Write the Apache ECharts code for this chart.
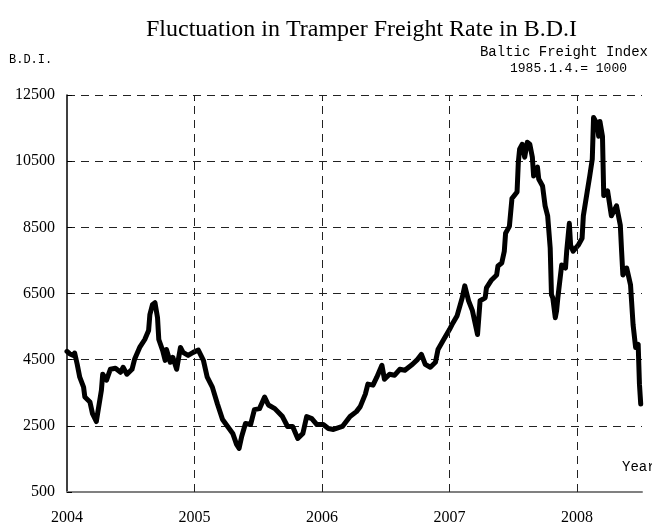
<!DOCTYPE html>
<html>
<head>
<meta charset="utf-8">
<title>B.D.I</title>
<script src="https://cdn.jsdelivr.net/npm/echarts@6/dist/echarts.min.js"></script>
<style>
	html, body { margin: 0; padding: 0; background: #fff; }
	#chart { width: 652px; height: 526px; }
</style>
</head>
<body>
<div id="chart"></div>
<script>
	// x position of each point, in years
	var years = [
		2004.00, 2004.02, 2004.05, 2004.06, 2004.08, 2004.10, 2004.13, 2004.14, 2004.18, 2004.20,
		2004.23, 2004.24, 2004.27, 2004.28, 2004.31, 2004.34, 2004.38, 2004.42, 2004.44, 2004.47,
		2004.51, 2004.53, 2004.57, 2004.61, 2004.64, 2004.65, 2004.67, 2004.69, 2004.71, 2004.72,
		2004.75, 2004.77, 2004.78, 2004.81, 2004.83, 2004.86, 2004.89, 2004.91, 2004.95, 2004.99,
		2005.03, 2005.07, 2005.10, 2005.14, 2005.18, 2005.22, 2005.26, 2005.30, 2005.33, 2005.35,
		2005.37, 2005.40, 2005.44, 2005.47, 2005.51, 2005.55, 2005.58, 2005.63, 2005.69, 2005.73,
		2005.77, 2005.81, 2005.85, 2005.88, 2005.92, 2005.96, 2006.01, 2006.05, 2006.09, 2006.16,
		2006.22, 2006.27, 2006.30, 2006.34, 2006.36, 2006.40, 2006.43, 2006.47, 2006.49, 2006.53,
		2006.57, 2006.61, 2006.65, 2006.71, 2006.75, 2006.78, 2006.81, 2006.85, 2006.89, 2006.91,
		2006.95, 2007.00, 2007.02, 2007.06, 2007.10, 2007.12, 2007.15, 2007.18, 2007.22, 2007.24,
		2007.28, 2007.29, 2007.33, 2007.37, 2007.38, 2007.41, 2007.43, 2007.44, 2007.47, 2007.49,
		2007.53, 2007.54, 2007.55, 2007.57, 2007.59, 2007.61, 2007.63, 2007.65, 2007.66, 2007.69,
		2007.70, 2007.73, 2007.75, 2007.77, 2007.79, 2007.80, 2007.81, 2007.83, 2007.84, 2007.85,
		2007.88, 2007.91, 2007.92, 2007.94, 2007.95, 2007.97, 2008.01, 2008.04, 2008.05, 2008.08,
		2008.10, 2008.12, 2008.13, 2008.16, 2008.17, 2008.18, 2008.20, 2008.21, 2008.24, 2008.27,
		2008.31, 2008.34, 2008.35, 2008.36, 2008.39, 2008.42, 2008.44, 2008.46, 2008.48, 2008.49,
		2008.50
	];
	// index values
	var bdi = [
		4750, 4680, 4630, 4700, 4360, 3970, 3670, 3370, 3220, 2870,
		2630, 2870, 3580, 4060, 3880, 4210, 4240, 4120, 4270, 4060,
		4210, 4510, 4870, 5110, 5380, 5860, 6160, 6220, 5770, 5110,
		4780, 4480, 4810, 4420, 4570, 4210, 4870, 4720, 4630, 4720,
		4790, 4480, 3970, 3670, 3160, 2690, 2480, 2270, 1940, 1820,
		2180, 2570, 2540, 2990, 3020, 3370, 3130, 3020, 2780, 2480,
		2480, 2120, 2270, 2780, 2720, 2540, 2540, 2420, 2390, 2480,
		2780, 2930, 3080, 3460, 3760, 3730, 3970, 4330, 3910, 4060,
		4030, 4210, 4180, 4360, 4510, 4660, 4360, 4270, 4420, 4810,
		5080, 5410, 5560, 5830, 6370, 6730, 6280, 5980, 5260, 6280,
		6370, 6670, 6910, 7060, 7330, 7420, 7780, 8320, 8530, 9370,
		9570, 10470, 10860, 11010, 10620, 11070, 11010, 10620, 10050, 10320,
		9960, 9750, 9150, 8850, 7870, 6460, 6370, 5770, 5980, 6370,
		7360, 7270, 7810, 8620, 7960, 7780, 7960, 8170, 8850, 9570,
		10050, 10560, 11820, 11610, 11250, 11700, 11250, 9460, 9600, 8850,
		9150, 8560, 7780, 7060, 7270, 6760, 5560, 4870, 4960, 3760,
		3160
	];
	// year ticks / gridlines
	var yearTicks = [2004, 2005, 2006, 2007, 2008];
	var yearGrid = [2005, 2006, 2007, 2008];

	var myChart = echarts.init(document.getElementById('chart'));
	var serif = '"Liberation Serif", "Times New Roman", serif';
	var mono = '"Liberation Mono", "Courier New", monospace';

	var points = years.map(function (x, i) {
		return [x, bdi[i]];
	});

	var option = {
		animation: false,
		title: {
			text: 'Fluctuation in Tramper Freight Rate in B.D.I',
			left: 141,
			top: 13,
			textStyle: {
				fontFamily: serif,
				fontSize: 24,
				fontWeight: 'normal',
				color: '#000'
			}
		},
		grid: {
			left: 67,
			right: 10,
			top: 95,
			bottom: 30,
			containLabel: false
		},
		graphic: [
			{ type: 'text', left: 9, top: 54, style: { text: 'B.D.I.', font: '12px ' + mono, fill: '#000' } },
			{ type: 'text', right: 4, top: 45, style: { text: 'Baltic Freight Index', font: '14px ' + mono, fill: '#000' } },
			{ type: 'text', left: 510, top: 62, style: { text: '1985.1.4.= 1000', font: '13px ' + mono, fill: '#000' } },
			{ type: 'text', left: 622, top: 460, style: { text: 'Year', font: '14px ' + mono, fill: '#000' } }
		],
		xAxis: [{
			type: 'value',
			min: 2004,
			max: 2008.51,
			interval: 1,
			axisLine: { show: true, lineStyle: { color: '#808080', width: 2 } },
			axisTick: { show: false },
			splitLine: { show: false },
			axisLabel: {
				showMaxLabel: false,
				margin: 18,
				fontFamily: serif,
				fontSize: 16,
				color: '#000',
				formatter: function (v) {
					return yearTicks.indexOf(v) >= 0 ? String(v) : '';
				}
			}
		}, {
			// small ticks along the top border
			type: 'value',
			position: 'top',
			min: 2004,
			max: 2008.51,
			interval: 1,
			axisLine: { show: false },
			axisLabel: { show: false },
			splitLine: { show: false },
			axisTick: { show: true, inside: true, length: 6, customValues: yearGrid, lineStyle: { color: '#000' } }
		}],
		yAxis: {
			type: 'value',
			min: 500,
			max: 12500,
			interval: 2000,
			axisLine: { show: true, lineStyle: { color: '#000', width: 1.5 } },
			axisTick: { show: true, inside: true, length: 5, lineStyle: { color: '#000' } },
			axisLabel: {
				margin: 12,
				fontFamily: serif,
				fontSize: 16,
				color: '#000',
				formatter: function (v) {
					return String(v);
				}
			},
			splitLine: {
				show: true,
				lineStyle: { color: '#222', type: [8, 6], width: 1 }
			}
		},
		series: [{
			name: 'B.D.I',
			type: 'line',
			data: points,
			showSymbol: false,
			symbol: 'none',
			smooth: false,
			lineStyle: { color: '#000', width: 5, join: 'round', cap: 'round' },
			markLine: {
				silent: true,
				symbol: ['none', 'none'],
				label: { show: false },
				lineStyle: { color: '#222', type: [8, 6], width: 1 },
				data: yearGrid.map(function (y) {
					return { xAxis: y };
				})
			},
			z: 3
		}]
	};
	myChart.setOption(option);
</script>
</body>
</html>
